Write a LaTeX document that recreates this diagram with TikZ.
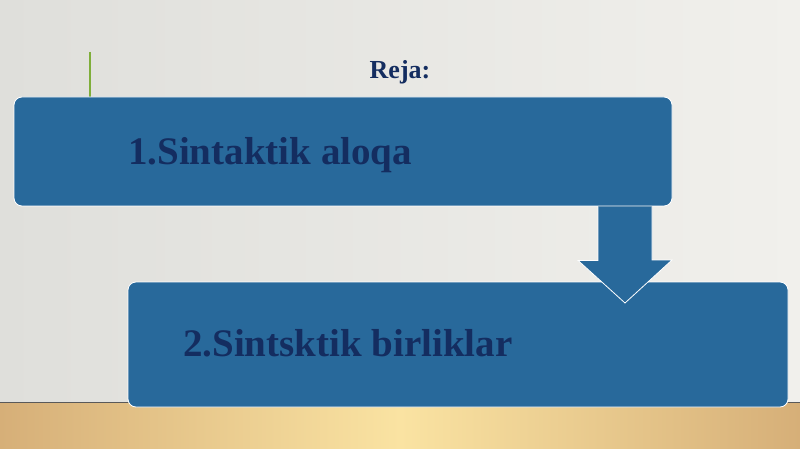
\documentclass[tikz,border=0pt]{standalone}
\usepackage{fontspec}
\setmainfont{Liberation Serif}
\usepackage{xcolor}
\usetikzlibrary{positioning, calc}

\definecolor{wallleft}{HTML}{DFDFDB}
\definecolor{wallright}{HTML}{F1F0EC}
\definecolor{floorside}{HTML}{D6AF78}
\definecolor{floormid}{HTML}{FAE3A2}
\definecolor{boxblue}{HTML}{28699B}
\definecolor{textnavy}{HTML}{142D60}
\definecolor{stemgreen}{HTML}{7FAE3A}

\tikzset{
    planbox/.style={draw=white, line width=0.8pt, fill=boxblue, rounded corners=8pt, inner sep=0pt},
    plantext/.style={anchor=base west, inner sep=0pt, text=textnavy, font=\fontsize{39}{44}\selectfont\bfseries}
}

\begin{document}
\begin{tikzpicture}[x=1pt, y=-1pt]
            \useasboundingbox (0, 0) rectangle (800, 449);
            % wall and floor
            \shade[left color=wallleft, right color=wallright] (0, 0) rectangle (800, 402);
            \shade[left color=floorside, right color=floorside, middle color=floormid] (0, 402) rectangle (800, 449);
            \draw[black!65, line width=1pt] (0, 402) -- (800, 402);
            \draw[stemgreen, line width=1.6pt] (90, 52) -- (90, 97);

            \node[inner sep=0pt, anchor=base, text=textnavy, font=\fontsize{26}{30}\selectfont\bfseries] (title) at (400, 79) {Reja:};

            \node[planbox, minimum width=658pt, minimum height=109pt] (aloqa) at (343, 151.5) {};
            \node[planbox, minimum width=660pt, minimum height=125pt] (birlik) at (458, 344.5) {};

            % block arrow from the first box into the second
            \coordinate (shaft) at (aloqa.south -| 625,0);
            \coordinate (tip) at (625, 303);
            \filldraw[fill=boxblue, draw=white, line width=0.8pt]
                ($(shaft) + (-27, 0)$) -- ++(0, 54) -- ++(-20, 0) -- (tip)
                -- ($(tip) + (47, -43)$) -- ++(-20, 0) -- ($(shaft) + (27, 0)$);

            \node[plantext] (aloqatext) at (128, 165) {1.Sintaktik aloqa};
            \node[plantext] (birliktext) at (183, 356) {2.Sintsktik birliklar};
        \end{tikzpicture}
\end{document}
